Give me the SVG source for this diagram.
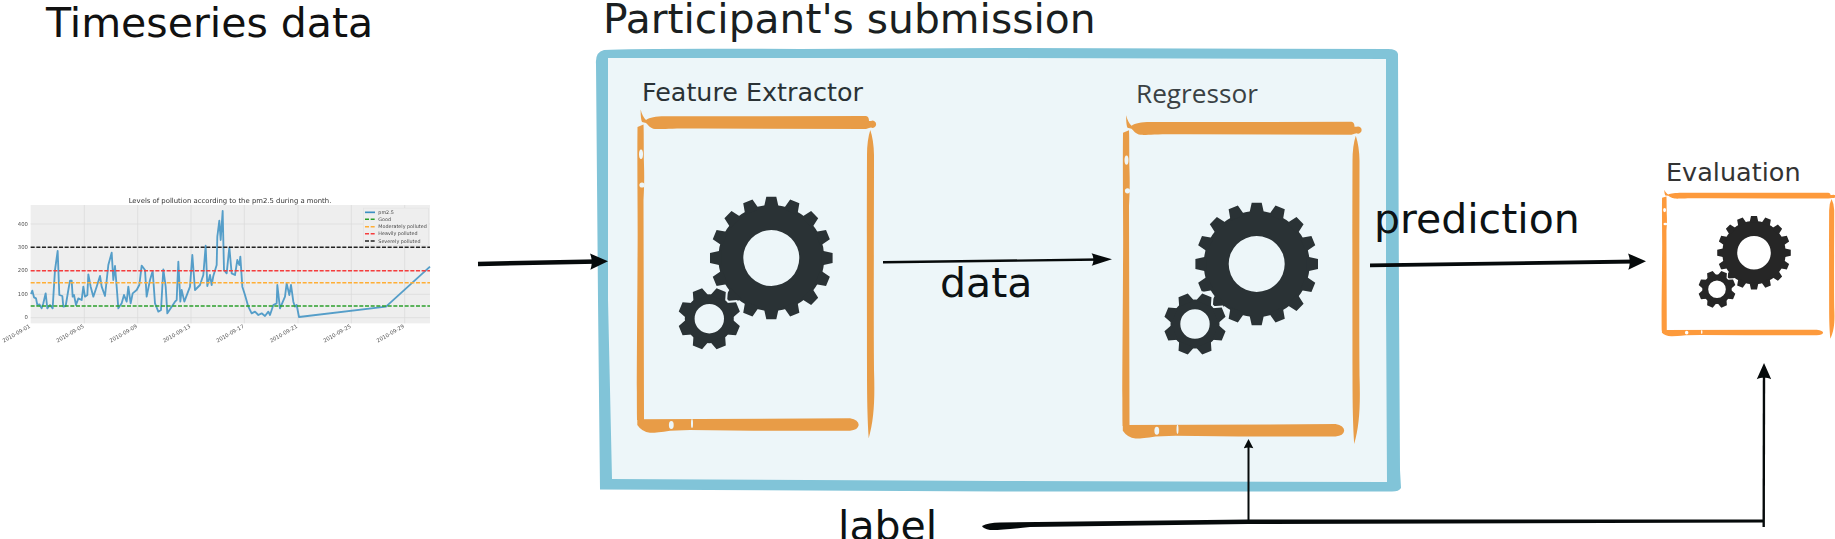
<svg xmlns="http://www.w3.org/2000/svg" xmlns:xlink="http://www.w3.org/1999/xlink" width="1835" height="539" viewBox="0 0 1835 539">
<style>
text{font-family:"DejaVu Sans","Liberation Sans",sans-serif}
.big{font-size:41px;fill:#0c1214}
.head{font-size:40.8px;fill:#1a1f21}
.tick{font-size:16px;fill:#555}
.leg{font-size:14.5px;fill:#444}
.conn{fill:none;stroke:#060a0b;stroke-linecap:butt}
.grid{stroke:#dadada;stroke-width:2;fill:none}
.dash{stroke-width:4.5;stroke-dasharray:12 5;fill:none}
</style>
<defs>
<filter id="soft" x="-5%" y="-5%" width="110%" height="110%"><feGaussianBlur stdDeviation="0.65"/></filter>
<marker id="ah" viewBox="0 0 20 16" preserveAspectRatio="none" refX="10" refY="8" markerUnits="userSpaceOnUse" markerWidth="21" markerHeight="17" orient="auto"><path fill="#060a0b" d="M20,8L3,0.3C5,5 5,11 3,15.7Z"/></marker>
<marker id="am" viewBox="0 0 20 16" preserveAspectRatio="none" refX="10" refY="8" markerUnits="userSpaceOnUse" markerWidth="24" markerHeight="13" orient="auto"><path fill="#060a0b" d="M20,8L3,0.3C5,5 5,11 3,15.7Z"/></marker>
<marker id="au" viewBox="0 0 20 16" preserveAspectRatio="none" refX="10" refY="8" markerUnits="userSpaceOnUse" markerWidth="19" markerHeight="15" orient="auto"><path fill="#060a0b" d="M20,8L3,0.3C5,5 5,11 3,15.7Z"/></marker>
<marker id="as" viewBox="0 0 20 16" preserveAspectRatio="none" refX="10" refY="8" markerUnits="userSpaceOnUse" markerWidth="11" markerHeight="10" orient="auto"><path fill="#060a0b" d="M20,8L3,0.3C5,5 5,11 3,15.7Z"/></marker>
<path id="t16" d="M-7.5,-50L-5,-61.3L5,-61.3L7.5,-50ZM-7.5,50L-5,61.3L5,61.3L7.5,50Z"/>
<g id="gear16">
<path fill-rule="evenodd" d="M-53,0A53,53 0 1,0 53,0A53,53 0 1,0 -53,0ZM-28,0A28,28 0 1,1 28,0A28,28 0 1,1 -28,0Z"/>
<use href="#t16"/><use href="#t16" transform="rotate(22.5)"/><use href="#t16" transform="rotate(45)"/><use href="#t16" transform="rotate(67.5)"/><use href="#t16" transform="rotate(90)"/><use href="#t16" transform="rotate(112.5)"/><use href="#t16" transform="rotate(135)"/><use href="#t16" transform="rotate(157.5)"/>
</g>
<path id="t8" d="M-8,-22L-5,-31L5,-31L8,-22ZM-8,22L-5,31L5,31L8,22Z"/>
<g id="gear8">
<path fill-rule="evenodd" d="M-24.5,0A24.5,24.5 0 1,0 24.5,0A24.5,24.5 0 1,0 -24.5,0ZM-14.7,0A14.7,14.7 0 1,1 14.7,0A14.7,14.7 0 1,1 -14.7,0Z"/>
<use href="#t8" transform="rotate(22.5)"/><use href="#t8" transform="rotate(67.5)"/><use href="#t8" transform="rotate(112.5)"/><use href="#t8" transform="rotate(157.5)"/>
</g>
<g id="bars">
<path d="M640.7,109.5C641.5,114 644,118 646,120C650,117.5 655,116.5 665,116.3L866,116Q869,116.5 869,121L871,121A3.6,3.6 0 1 1 871,127.5L869,128L866,129L700,128.5C670,128 662,129.5 655,129C650,128.5 648,124.5 646,123L642,122C641,120 640.5,115 640.7,109.5Z"/>
<path d="M637.5,127L643.5,124.5C644,135 643.5,150 644,165C644.5,180 644,190 643.5,200L644,420L637,420C636.5,380 637.5,300 637.5,260C638,220 637,170 637.5,127Z"/>
<path d="M637.3,419.3L850,418.3Q858.7,420 858.7,425Q858,430 850,430.7L753,430.7L690,430L670,430.7Q655,433 650,432.7Q642,432 637.3,425Z"/>
<path d="M870.3,130Q873.7,140 874,155C874,250 873.5,300 874,370C875,400 874,420 868.7,438.3C867.5,420 867,400 867,370C867,300 866.7,250 867,155Q867,140 870.3,130Z"/>
</g>
<g id="notches">
<ellipse cx="641" cy="154.3" rx="2" ry="4.7"/><ellipse cx="642" cy="185" rx="2.6" ry="2.6"/><ellipse cx="671.3" cy="425" rx="2.4" ry="4"/><ellipse cx="692" cy="423.5" rx="1" ry="4.6"/>
</g>
</defs>

<g id="timeseries-data">
<text x="46" y="37" font-size="41" fill="#111">Timeseries data</text>
<g transform="translate(0,170) scale(.33333)" filter="url(#soft)">
<rect x="92" y="105" width="1198" height="355" fill="#eeeeee"/>
<path class="grid" d="M253,105V460M413,105V460M573,105V460M733,105V460M894,105V460M1054,105V460M1214,105V460M92,162H1290M92,232H1290M92,302H1290M92,373H1290M92,443H1290"/>
<text x="690" y="99" text-anchor="middle" font-size="20.7" fill="#333">Levels of pollution according to the pm2.5 during a month.</text>
<g class="tick" text-anchor="end">
<text x="84" y="448">0</text><text x="84" y="378">100</text><text x="84" y="307">200</text><text x="84" y="237">300</text><text x="84" y="167">400</text>
<text transform="translate(92,472) rotate(-30)">2010-09-01</text>
<text transform="translate(253,472) rotate(-30)">2010-09-05</text>
<text transform="translate(413,472) rotate(-30)">2010-09-09</text>
<text transform="translate(573,472) rotate(-30)">2010-09-13</text>
<text transform="translate(733,472) rotate(-30)">2010-09-17</text>
<text transform="translate(894,472) rotate(-30)">2010-09-21</text>
<text transform="translate(1054,472) rotate(-30)">2010-09-25</text>
<text transform="translate(1214,472) rotate(-30)">2010-09-29</text>
</g>
<path fill="none" stroke="#3a8fc2" stroke-width="5.5" stroke-opacity=".85" stroke-linejoin="round" d="M93,372L97,362L102,382L108,385L112,405L118,403L125,415L130,400L137,370L142,415L150,405L158,415L160,380L165,300L173,243L178,375L187,378L190,410L197,408L205,360L210,332L215,332L218,380L222,375L228,405L235,385L245,390L250,350L255,380L262,375L265,313L272,350L280,380L290,350L300,318L305,350L315,378L325,285L335,248L340,330L345,288L350,350L355,415L365,400L372,375L380,395L385,350L392,400L398,370L410,360L418,345L425,287L435,300L440,380L450,330L458,303L465,400L475,425L483,420L490,298L497,350L502,430L525,395L530,390L535,275L541,395L545,360L553,395L570,350L577,255L585,360L600,345L610,315L617,227L622,348L630,315L635,345L640,318L650,285L652,200L658,152L662,210L668,123L672,300L680,310L688,232L695,310L705,315L712,270L718,285L721,260L727,350L735,375L745,410L755,430L765,425L775,435L785,430L795,438L805,425L810,435L820,405L830,400L832,345L840,415L855,380L860,340L868,375L873,345L880,395L885,410L890,405L897,441L1158,410L1290,290"/>
<path class="dash" stroke="#2ca02c" d="M92,408H1290"/>
<path class="dash" stroke="#ffae34" d="M92,338H1290"/>
<path class="dash" stroke="#f63c3c" d="M92,302H1290"/>
<path class="dash" stroke="#222" d="M92,232H1290"/>
<rect x="1090" y="114" width="196" height="112" fill="#eeeeee" stroke="#e2e2e2" stroke-width="2"/>
<path fill="none" stroke="#3a8fc2" stroke-width="5" d="M1095,127H1125"/>
<path class="dash" stroke="#2ca02c" stroke-dasharray="10 5" d="M1095,148H1125"/>
<path class="dash" stroke="#ffae34" stroke-dasharray="10 5" d="M1095,170H1125"/>
<path class="dash" stroke="#f63c3c" stroke-dasharray="10 5" d="M1095,191H1125"/>
<path class="dash" stroke="#222" stroke-dasharray="10 5" d="M1095,213H1125"/>
<g class="leg"><text x="1135" y="132">pm2.5</text><text x="1135" y="153">Good</text><text x="1135" y="175">Moderately polluted</text><text x="1135" y="196">Heavily polluted</text><text x="1135" y="218">Severely polluted</text></g>
</g>
</g>

<g id="participant-submission">
<text class="head" x="603" y="33">Participant's submission</text>
<path fill="#81c4d8" d="M596,64Q595,52 604,50Q640,48 800,49L1000,48L1388,49Q1397,49 1398,54L1399,300L1400,470L1401,488Q1399,491.5 1392,491.5L1000,491.5L600,489.5L598,300Z"/>
<path fill="#edf6f9" d="M608,58L1000,58L1386,59L1386,300L1387,482L1000,481L612,479L608,300Z"/>
</g>

<g id="feature-extractor">
<use href="#bars" fill="#e89c47"/><use href="#notches" fill="#edf6f9"/>
<text x="642" y="101" font-size="25.4" fill="#2a3235">Feature Extractor</text>
<use href="#gear16" transform="translate(771.3,258)" fill="#2a3235"/>
<use href="#gear8" transform="translate(709.3,318.7)" fill="#edf6f9" stroke="#edf6f9" stroke-width="4"/>
<use href="#gear8" transform="translate(709.3,318.7)" fill="#2a3235"/>
</g>

<g id="regressor">
<g transform="translate(485.5,5.8)"><use href="#bars" fill="#e89c47"/><use href="#notches" fill="#edf6f9"/></g>
<text x="1136" y="103" font-size="26.2" fill="#3a4144" style="font-family:'Open Sans',sans-serif">Regressor</text>
<use href="#gear16" transform="translate(1256.7,264)" fill="#2a3235"/>
<use href="#gear8" transform="translate(1195,324)" fill="#edf6f9" stroke="#edf6f9" stroke-width="4"/>
<use href="#gear8" transform="translate(1195,324)" fill="#2a3235"/>
</g>

<g id="evaluation">
<g transform="translate(1661.7,192.7) scale(.728,.453) translate(-637,-116)"><use href="#bars" fill="#fd9a3c"/><use href="#notches" fill="#ffffff"/></g>
<text x="1666" y="181" font-size="25.5" fill="#333">Evaluation</text>
<use href="#gear16" transform="translate(1754,252.7) scale(.6)" fill="#262626"/>
<use href="#gear8" transform="translate(1717,289.3) scale(.6)" fill="#fff" stroke="#fff" stroke-width="4"/>
<use href="#gear8" transform="translate(1717,289.3) scale(.6)" fill="#262626"/>
</g>

<g id="connectors">
<path class="conn" stroke-width="4.5" marker-end="url(#ah)" d="M478,264L597.5,261.5"/>
<path class="conn" stroke-width="2.4" marker-end="url(#am)" d="M883,262.3L1100,259.5"/>
<path class="conn" stroke-width="3.8" marker-end="url(#ah)" d="M1370,265.3L1635.5,261.5"/>
<path fill="#060a0b" d="M982,526Q988,522.5 1000,522.5L1248,519.5L1764,519.5L1764,522.5L1248,524L1030,527Q1000,530.5 990,530Q983,528.5 982,526Z"/>
<path class="conn" stroke-width="2.4" marker-end="url(#au)" d="M1763.7,527L1764,372.5"/>
<path class="conn" stroke-width="2" marker-end="url(#as)" d="M1248.5,522L1248.5,444.5"/>
</g>

<g id="labels">
<text class="big" x="940" y="297">data</text>
<text class="big" x="1374" y="233">prediction</text>
<text class="big" x="838" y="540">label</text>
</g>
</svg>
